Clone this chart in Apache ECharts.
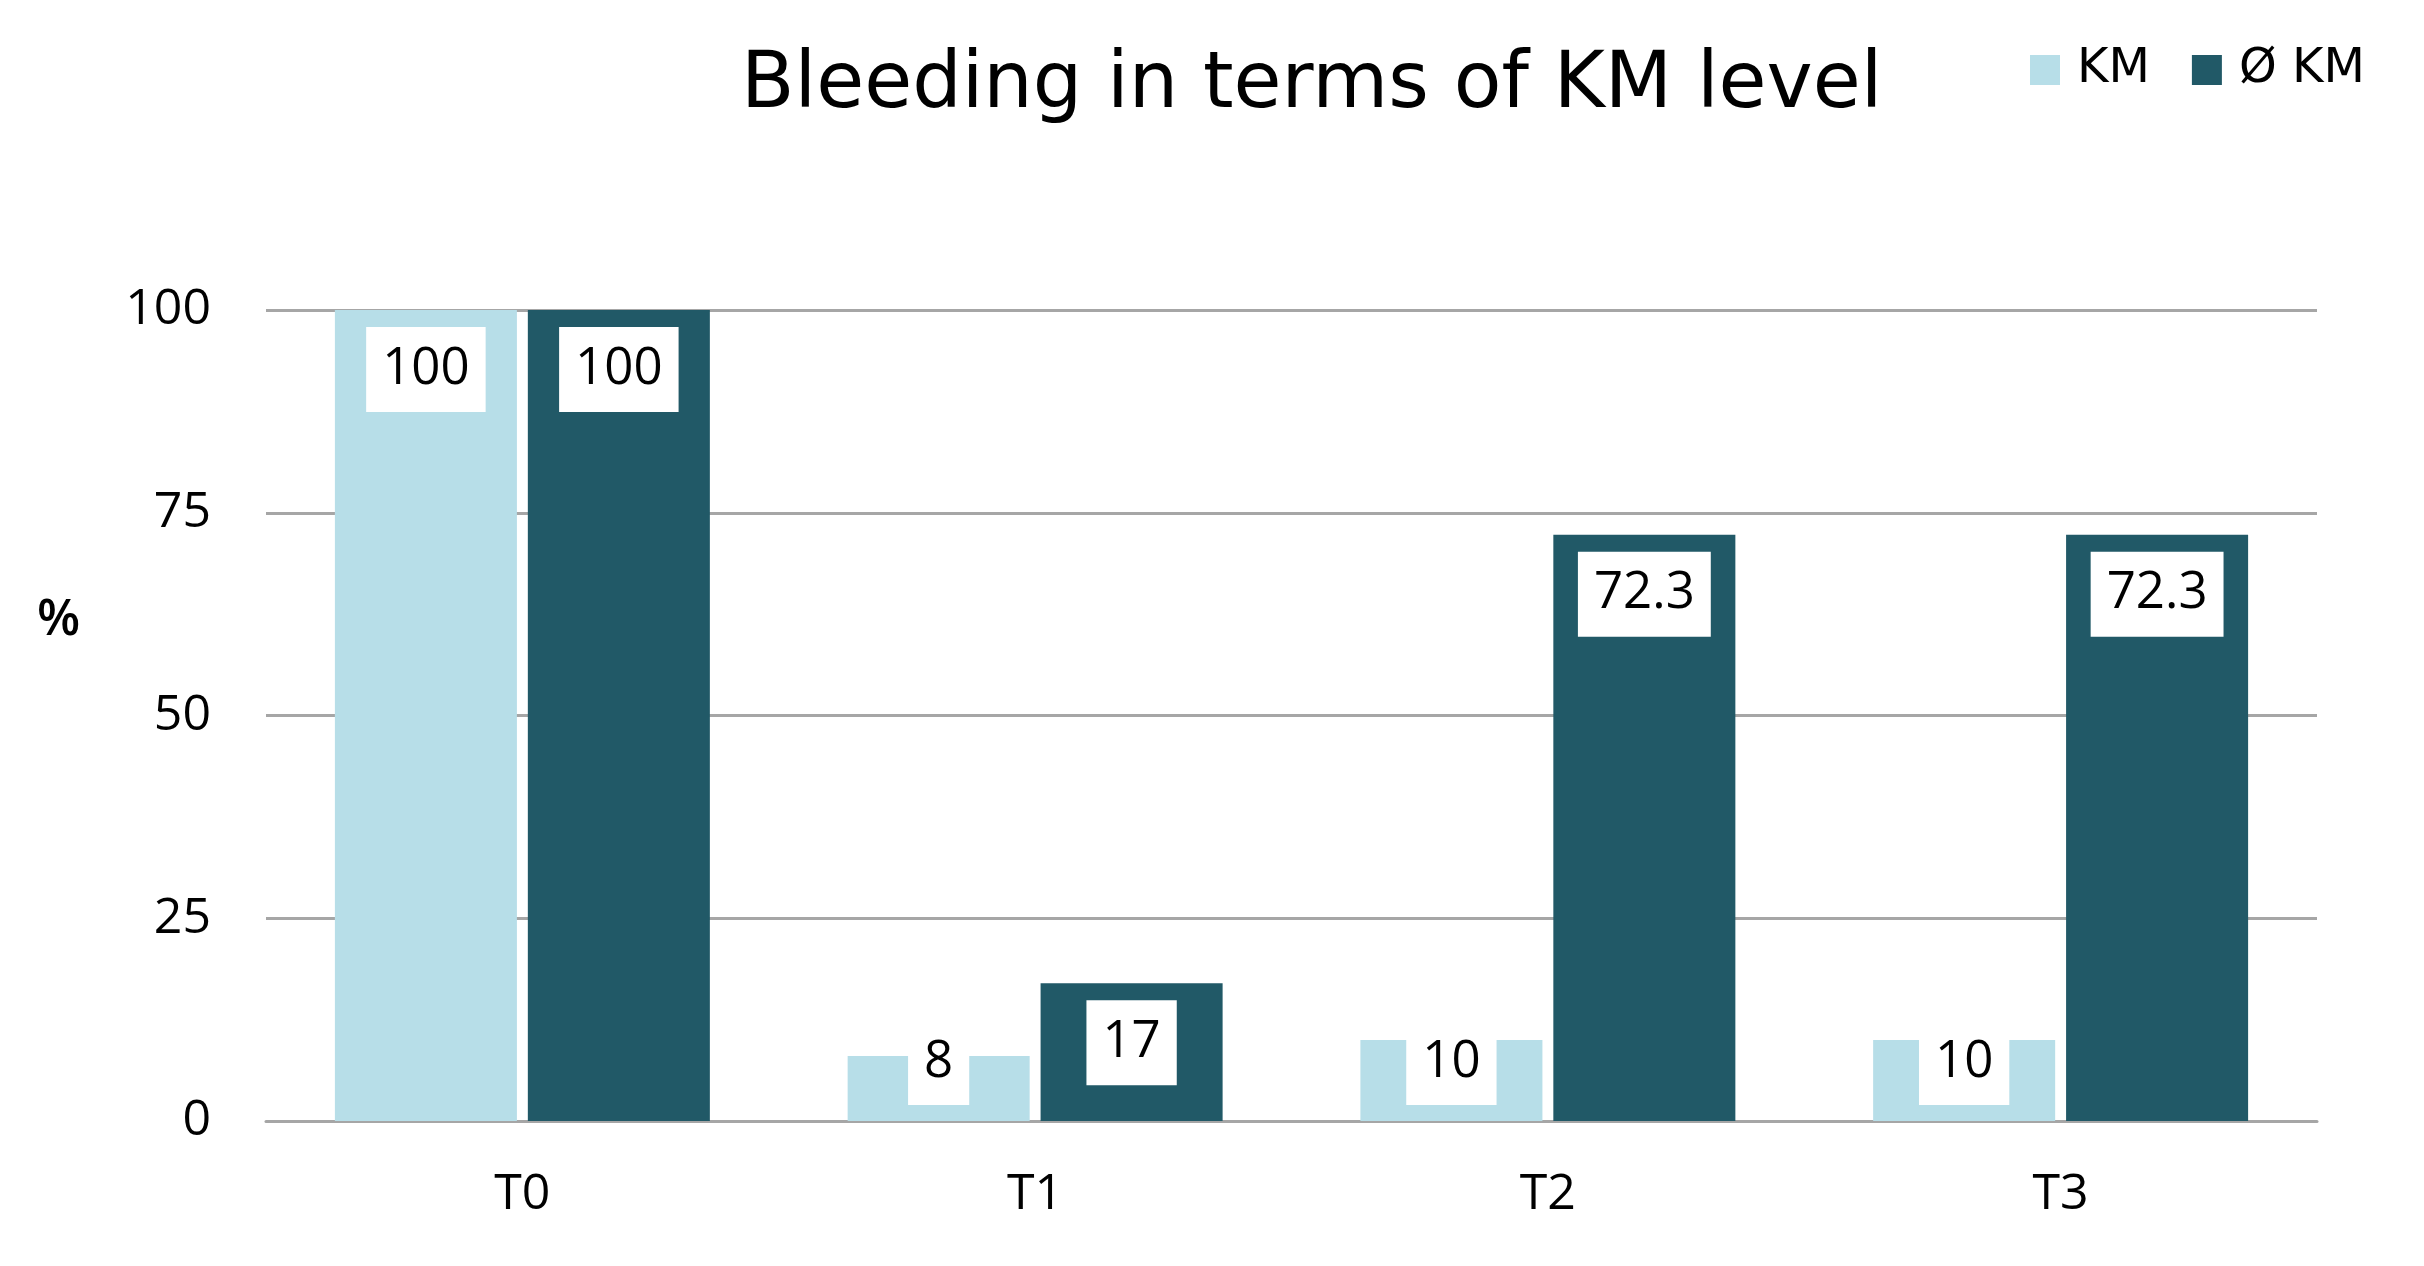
<!DOCTYPE html>
<html>
<head>
<meta charset="utf-8">
<script src="https://cdn.jsdelivr.net/npm/echarts@6/dist/echarts.min.js"></script>
<style>
html,body{margin:0;padding:0;background:#fff;}
#chart{width:2424px;height:1266px;}
</style>
</head>
<body>
<div id="chart"></div>
<script>
const categories = ['T0', 'T1', 'T2', 'T3'];
const seriesNames = ['KM', 'Ø KM'];
const kmValues = [100, 8, 10, 10];
const noKmValues = [100, 17, 72.3, 72.3];
const yTicks = [0, 25, 50, 75, 100];
const yAxisName = '%';

const colors = ['#B7DEE8', '#215967'];
const FONT = '"Open Sans", "Noto Sans", sans-serif';

function makeData(values) {
  return values.map(function (v) {
    if (v < 15) {
      return { value: v, label: { position: 'insideBottom', distance: 16 } };
    }
    return { value: v };
  });
}

const labelStyle = {
  show: true,
  position: 'insideTop',
  distance: 17,
  color: '#000',
  fontFamily: FONT,
  fontSize: 51,
  lineHeight: 52,
  backgroundColor: '#fff',
  padding: [16, 16, 17, 16]
};

const chart = echarts.init(document.getElementById('chart'), null, { renderer: 'canvas' });
chart.setOption({
  animation: false,
  backgroundColor: '#fff',
  title: {
    text: 'Bleeding in terms of KM level',
    left: 741,
    top: 48,
    padding: 0,
    textStyle: {
      fontFamily: '"DejaVu Sans", sans-serif',
      fontSize: 78,
      lineHeight: 78,
      fontWeight: 'normal',
      color: '#000'
    }
  },
  legend: {
    data: seriesNames,
    left: 2030,
    top: 46,
    padding: 0,
    itemWidth: 30,
    itemHeight: 30,
    itemGap: 42,
    icon: 'rect',
    textStyle: {
      fontFamily: '"DejaVu Sans", sans-serif',
      fontSize: 48,
      lineHeight: 48,
      color: '#000',
      padding: [0, 0, 0, 12]
    }
  },
  graphic: [
    {
      type: 'text',
      left: 37,
      top: 596,
      style: {
        text: yAxisName,
        font: '600 50px "Open Sans", sans-serif',
        fill: '#000'
      }
    }
  ],
  grid: {
    left: 266,
    right: 107,
    top: 310,
    bottom: 145,
    containLabel: false
  },
  xAxis: {
    type: 'category',
    data: categories,
    axisLine: { show: true, lineStyle: { color: '#A6A6A6', width: 3 } },
    axisTick: { show: false },
    axisLabel: {
      margin: 49,
      color: '#000',
      fontFamily: FONT,
      fontSize: 50,
      lineHeight: 50
    }
  },
  yAxis: {
    type: 'value',
    min: yTicks[0],
    max: yTicks[yTicks.length - 1],
    interval: yTicks[1] - yTicks[0],
    axisLine: { show: false },
    axisTick: { show: false },
    splitLine: { show: true, lineStyle: { color: '#A6A6A6', width: 3 } },
    axisLabel: {
      margin: 55,
      color: '#000',
      fontFamily: FONT,
      fontSize: 50
    }
  },
  series: [
    {
      name: seriesNames[0],
      type: 'bar',
      data: makeData(kmValues),
      barWidth: '35.5%',
      barGap: '6%',
      itemStyle: { color: colors[0] },
      label: labelStyle
    },
    {
      name: seriesNames[1],
      type: 'bar',
      data: makeData(noKmValues),
      barWidth: '35.5%',
      barGap: '6%',
      itemStyle: { color: colors[1] },
      label: labelStyle
    }
  ]
});
</script>
</body>
</html>
